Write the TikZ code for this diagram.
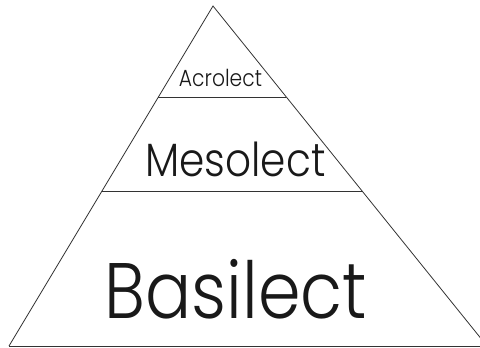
\documentclass[tikz,border=0pt]{standalone}
\usepackage{fontspec}
\setmainfont{Poppins Light}[FakeStretch=0.87]
\usetikzlibrary{positioning,calc}

\tikzset{
  tierline/.style={line width=0.6pt, black!80},
  tierlabel/.style={anchor=base, inner sep=0pt, text=black!90}
}

\begin{document}
\begin{tikzpicture}[x=0.75pt,y=-0.75pt]
                \useasboundingbox (0,0) rectangle (480,348);
                \clip (0,0) rectangle (480,348);
                % Corners of the pyramid
                \coordinate (top) at (213,6);
                \coordinate (baseL) at (9,346);
                \coordinate (baseR) at (487,346);
                \coordinate (edge) at (480,346);
                
                % Outline
                \draw[tierline] (baseL) -- (top) -- (baseR);
                \draw[tierline] (baseL) -- (edge);
                
                % Dividing lines
                \draw[tierline] ($(top)!0.2676!(baseL)$) coordinate (upL) -- ($(top)!0.2676!(baseR)$) coordinate (upR);
                \draw[tierline] ($(top)!0.5441!(baseL)$) coordinate (midL) -- ($(top)!0.5441!(baseR)$) coordinate (midR);
                
                % Tier labels
                \node[tierlabel] (acro) at (220.5,87) {\fontsize{17.5}{21}\selectfont Acrolect};
                \node[tierlabel] (meso) at (235.5,177) {\fontsize{35}{42}\selectfont Mesolect};
                \node[tierlabel] (basi) at (236,319) {\fontsize{59}{70}\selectfont Basilect};
            \end{tikzpicture}
\end{document}
